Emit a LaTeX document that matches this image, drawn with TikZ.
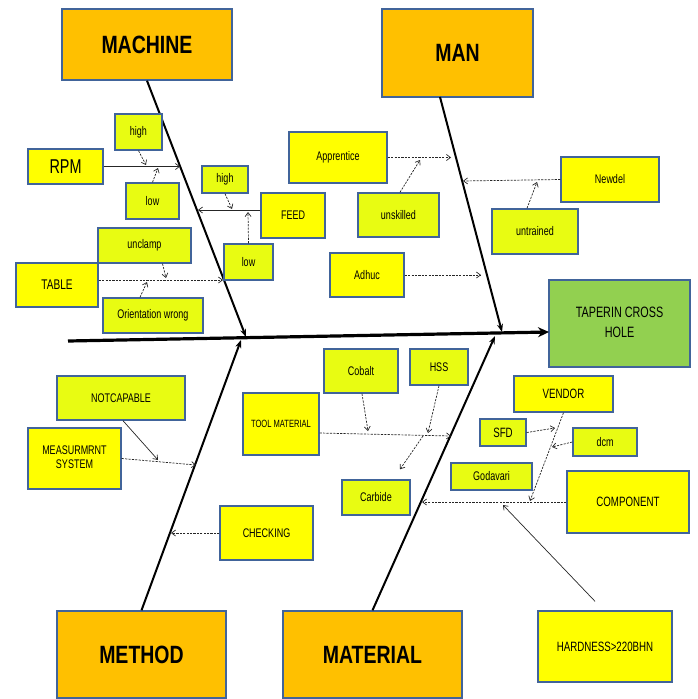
\documentclass[tikz,border=0pt]{standalone}
\usepackage{fontspec}
\setmainfont{Liberation Sans}
\usetikzlibrary{arrows.meta}
\definecolor{orgbox}{HTML}{FFC000}
\definecolor{ylw}{HTML}{FFFF00}
\definecolor{lime}{HTML}{E8FC12}
\definecolor{grn}{HTML}{92D050}
\definecolor{bord}{HTML}{41649A}
\newcommand\nt[1]{\scalebox{0.72}[1]{#1}}
\newcommand\bt[1]{\scalebox{0.78}[1]{\bfseries #1}}
\tikzset{
  box/.style={draw=bord, line width=1.4pt, inner sep=0pt, text=black,
    font=\fontsize{12.5}{14}\selectfont},
  ybox/.style={box, fill=ylw},
  lbox/.style={box, fill=lime},
  obox/.style={box, fill=orgbox, font=\fontsize{25}{28}\selectfont},
  bone/.style={line width=2pt, black, -{Stealth[length=8pt,width=6pt]}},
  spine/.style={line width=3.2pt, black, -{Stealth[length=11pt,width=10pt]}},
  dline/.style={line width=0.7pt, black!85, dash pattern=on 2.2pt off 1.2pt,
    -{Straight Barb[length=4pt,width=6pt]}},
  sline/.style={line width=0.7pt, black!85, -{Straight Barb[length=4pt,width=6pt]}},
}
\begin{document}
\begin{tikzpicture}[x=1pt,y=-1pt]
\useasboundingbox (0,0) rectangle (698,699);

% main category boxes
\node[obox, minimum width=170pt, minimum height=71pt] (machine) at (147,44.5) {\bt{MACHINE}};
\node[obox, minimum width=151pt, minimum height=88pt] (man) at (457.5,53) {\bt{MAN}};
\node[obox, minimum width=169pt, minimum height=87pt] (method) at (141.5,654.5) {\bt{METHOD}};
\node[obox, minimum width=179pt, minimum height=87pt] (material) at (372.5,654.5) {\bt{MATERIAL}};
\node[box, fill=grn, minimum width=141pt, minimum height=87pt, font=\fontsize{15}{18}\selectfont] (effect) at (619.5,323.5)
  {\nt{\begin{tabular}{@{}c@{}}TAPERIN CROSS\\[2pt]HOLE\end{tabular}}};

% spine and bones
\coordinate (sp0) at (68,341);
\coordinate (spE) at (549,332);
\coordinate (J1) at (246,337);
\coordinate (J2) at (502,332);
\coordinate (J3) at (241,340);
\coordinate (J4) at (495,336);
\coordinate (manB) at (440,97);
\draw[spine] (sp0) -- (spE);
\draw[bone] (machine.south) -- (J1);
\draw[bone] (manB) -- (J2);
\draw[bone] (method.north) -- (J3);
\draw[bone] (material.north) -- (J4);

% machine causes
\node[lbox, minimum width=47pt, minimum height=36pt] (high1) at (138.5,132) {\nt{high}};
\node[ybox, minimum width=75pt, minimum height=35pt, font=\fontsize{20}{22}\selectfont] (rpm) at (65.5,166.5) {\nt{RPM}};
\node[lbox, minimum width=53pt, minimum height=36pt] (low1) at (152.5,201) {\nt{low}};
\node[lbox, minimum width=46pt, minimum height=27pt] (high2) at (225,179.5) {\nt{high}};
\node[ybox, minimum width=64pt, minimum height=45pt] (feed) at (293,215.5) {\nt{FEED}};
\node[lbox, minimum width=49pt, minimum height=36pt] (low2) at (248.5,262) {\nt{low}};
\node[lbox, minimum width=93pt, minimum height=35pt] (unclamp) at (144.5,245.5) {\nt{unclamp}};
\node[ybox, minimum width=82pt, minimum height=44pt, font=\fontsize{14}{16}\selectfont] (table) at (57,285) {\nt{TABLE}};
\node[lbox, minimum width=100pt, minimum height=35pt] (orient) at (153,315.5) {\nt{Orientation wrong}};

\coordinate (rpmE) at (180,166.5);
\coordinate (h1t) at (146,165);
\coordinate (l1t) at (158,168);
\coordinate (feedE) at (198,210);
\coordinate (h2t) at (232,209);
\coordinate (l2t) at (248,212);
\coordinate (tabE) at (223,280);
\coordinate (uct) at (166,278);
\coordinate (ort) at (147,282);
\draw[sline] (rpm.east) -- (rpmE);
\draw[dline] (high1.south) -- (h1t);
\draw[dline] (low1.north) -- (l1t);
\draw[sline] ([yshift=5.5pt]feed.west) -- (feedE);
\draw[dline] (high2.south) -- (h2t);
\draw[dline] (low2.north) -- (l2t);
\draw[dline] ([yshift=5pt]table.east) -- (tabE);
\draw[dline] ([xshift=18pt]unclamp.south) -- (uct);
\draw[dline] ([xshift=-13pt]orient.north) -- (ort);

% man causes
\node[ybox, minimum width=98pt, minimum height=51pt] (appr) at (338,157.5) {\nt{Apprentice}};
\node[lbox, minimum width=81pt, minimum height=44pt] (unskilled) at (398.5,215) {\nt{unskilled}};
\node[ybox, minimum width=74pt, minimum height=44pt] (adhuc) at (367,275) {\nt{Adhuc}};
\node[ybox, minimum width=98pt, minimum height=45pt] (newdel) at (610,179.5) {\nt{Newdel}};
\node[lbox, minimum width=86pt, minimum height=45pt] (untrained) at (535,231.5) {\nt{untrained}};

\coordinate (apE) at (451,157.5);
\coordinate (ust) at (420,160);
\coordinate (adE) at (481,275);
\coordinate (ndE) at (463,181);
\coordinate (utt) at (537,182);
\draw[dline] (appr.east) -- (apE);
\draw[dline] ([xshift=1.5pt]unskilled.north) -- (ust);
\draw[dline] (adhuc.east) -- (adE);
\draw[dline] (newdel.west) -- (ndE);
\draw[dline] ([xshift=-8pt]untrained.north) -- (utt);

% method causes
\node[lbox, minimum width=128pt, minimum height=44pt] (notcap) at (121,398) {\nt{NOTCAPABLE}};
\node[ybox, minimum width=93pt, minimum height=61pt] (meas) at (74.5,458.5)
  {\nt{\begin{tabular}{@{}c@{}}MEASURMRNT\\SYSTEM\end{tabular}}};
\node[ybox, minimum width=93pt, minimum height=54pt] (checking) at (266.5,533) {\nt{CHECKING}};

\coordinate (msE) at (196,465);
\coordinate (nct) at (158,460);
\coordinate (ckE) at (171,533);
\draw[dline] (meas.east) -- (msE);
\draw[sline] ([xshift=2pt]notcap.south) -- (nct);
\draw[dline] (checking.west) -- (ckE);

% material causes
\node[lbox, minimum width=74pt, minimum height=44pt] (cobalt) at (361,371) {\nt{Cobalt}};
\node[lbox, minimum width=58pt, minimum height=36pt] (hss) at (439,367) {\nt{HSS}};
\node[ybox, minimum width=76pt, minimum height=62pt, font=\fontsize{10.5}{12}\selectfont] (tool) at (281,424) {\nt{TOOL MATERIAL}};
\node[lbox, minimum width=68pt, minimum height=35pt] (carbide) at (376,497.5) {\nt{Carbide}};
\node[ybox, minimum width=99pt, minimum height=36pt, font=\fontsize{13.5}{15}\selectfont] (vendor) at (563.5,394) {\nt{VENDOR}};
\node[lbox, minimum width=46pt, minimum height=27pt, font=\fontsize{13.5}{15}\selectfont] (sfd) at (503,432.5) {\nt{SFD}};
\node[lbox, minimum width=64pt, minimum height=28pt] (dcm) at (605,442) {\nt{dcm}};
\node[lbox, minimum width=81pt, minimum height=27pt] (godavari) at (491.5,476.5) {\nt{Godavari}};
\node[ybox, minimum width=122pt, minimum height=62pt, font=\fontsize{13.5}{15}\selectfont] (component) at (628,502) {\nt{COMPONENT}};
\node[ybox, minimum width=134pt, minimum height=71pt, font=\fontsize{13.5}{15}\selectfont] (hardness) at (605,646.5) {\nt{HARDNESS>220BHN}};

\coordinate (tlE) at (451,436);
\coordinate (cbt) at (368,431);
\coordinate (hst) at (428,433);
\coordinate (cb0) at (423,436);
\coordinate (coE) at (422,502);
\coordinate (vdt) at (530,501);
\coordinate (sft) at (555,428);
\coordinate (dct) at (552,447);
\coordinate (hdt) at (503,505);
\draw[dline] ([yshift=-9pt]tool.east) -- (tlE);
\draw[dline] ([xshift=1pt]cobalt.south) -- (cbt);
\draw[dline] (hss.south) -- (hst);
\draw[dline] (cb0) -- ([xshift=24pt,yshift=10pt]carbide.north);
\draw[dline] (component.west) -- (coE);
\draw[dline] (vendor.south) -- (vdt);
\draw[dline] (sfd.east) -- (sft);
\draw[dline] (dcm.west) -- (dct);
\draw[sline] ([xshift=-10pt,yshift=9pt]hardness.north) -- (hdt);
\end{tikzpicture}
\end{document}
